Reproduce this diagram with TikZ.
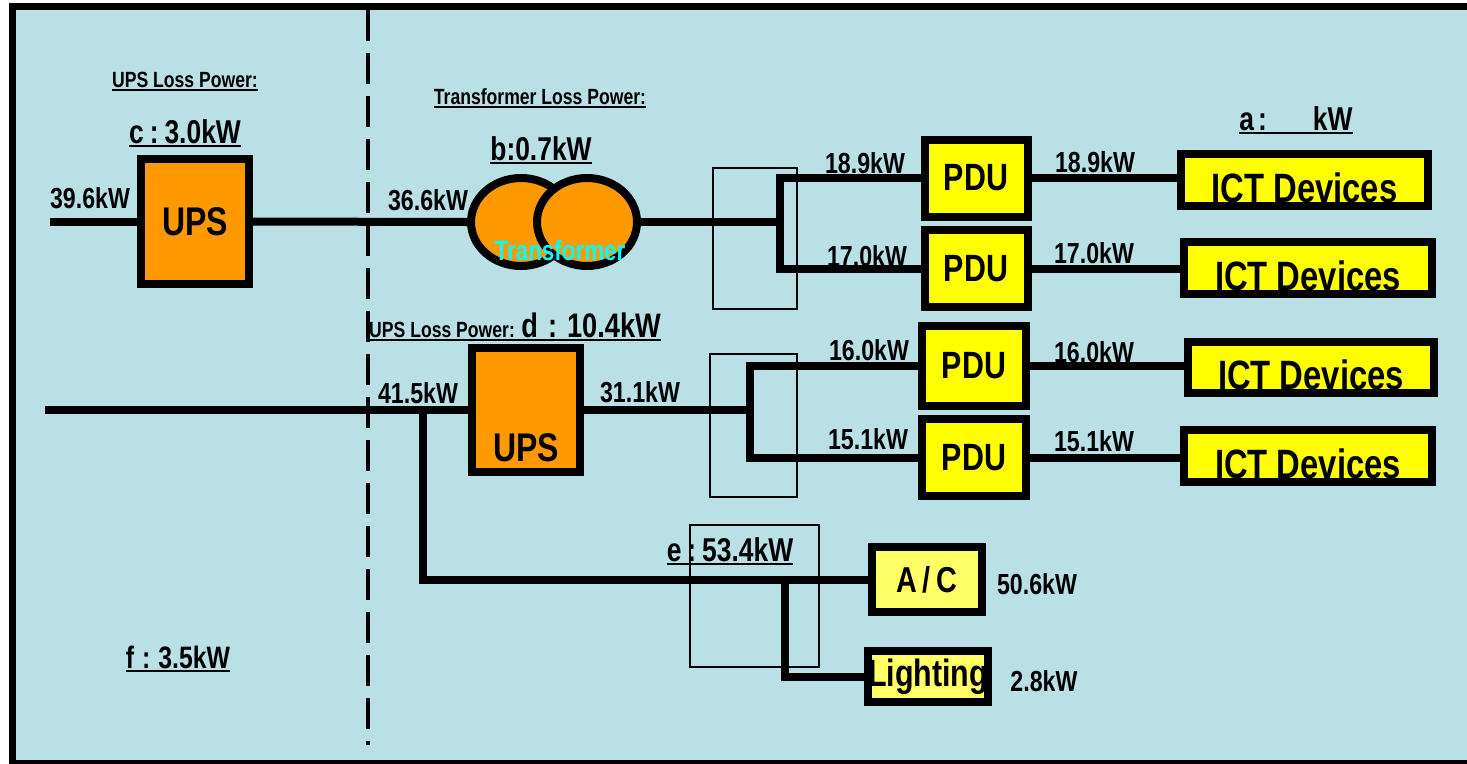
\documentclass[tikz,border=0pt]{standalone}
\usepackage{fontspec}
\setmainfont{Liberation Sans}[FakeStretch=0.8]
\usepackage{xcolor}
\usepackage{tikz}
\usetikzlibrary{shapes.geometric, positioning}

\definecolor{panelbg}{RGB}{185,224,228}
\definecolor{upsorange}{RGB}{255,153,0}
\definecolor{pduyellow}{RGB}{255,255,0}
\definecolor{loadyellow}{RGB}{255,255,102}
\definecolor{xfmrcyan}{RGB}{0,255,255}

\newcommand{\pxfont}[1]{\fontsize{#1}{#1}\selectfont}
\newsavebox{\ulsave}
\newcommand{\lossul}[1]{\sbox{\ulsave}{#1}\rlap{\rule[-4pt]{\wd\ulsave}{2pt}}\usebox{\ulsave}}

\begin{document}
\begin{tikzpicture}[
    x=1pt, y=-1pt,
    box/.style={draw=black, line width=8pt, inner sep=0pt, align=center},
    upsbox/.style={box, fill=upsorange, minimum width=108pt, minimum height=125pt, font=\pxfont{40}\bfseries},
    pdubox/.style={box, fill=pduyellow, minimum width=103pt, minimum height=77pt, font=\pxfont{38}\bfseries},
    ictbox/.style={box, fill=pduyellow, minimum width=247pt, minimum height=52pt, font=\pxfont{41}\bfseries, text height=44pt, text depth=0pt},
    loadbox/.style={box, fill=loadyellow, minimum width=110pt},
    xfmr/.style={ellipse, draw=black, line width=8pt, fill=upsorange, minimum width=100pt, minimum height=88pt},
    wire/.style={line width=8pt},
    panel/.style={draw=black, line width=1.5pt},
    divider/.style={line width=3.5pt, dash pattern=on 31pt off 12pt},
    kw/.style={anchor=base, inner sep=0pt, font=\pxfont{29}\bfseries},
    losstitle/.style={anchor=base, inner sep=0pt, font=\pxfont{22}\bfseries},
    lossval/.style={anchor=base, inner sep=0pt, font=\pxfont{33}\bfseries}
]
    \useasboundingbox (0,0) rectangle (1467,763);
    \fill[white] (0,0) rectangle (1467,763);
    \clip (0,0) rectangle (1467,763);

    % Frame and groups
    \draw[line width=7pt, fill=panelbg] (12,6.5) rectangle (1490,763);
    \draw[divider] (368,10) -- (368,745);
    \draw[panel] (713,168) rectangle (797,309);
    \draw[panel] (710,354) rectangle (797,497);
    \draw[panel] (690,525) rectangle (819,667);

    % Nodes
    \node[upsbox] (ups1) at (195,221.5) {UPS};
    \node[xfmr] (tr1) at (521,222) {};
    \node[xfmr] (tr2) at (587,222) {};
    \node[pdubox] (pdu1) at (976,178) {PDU};
    \node[pdubox] (pdu2) at (976,268.5) {PDU};
    \node[pdubox, minimum width=104pt, minimum height=80pt] (pdu3) at (974,366) {PDU};
    \node[pdubox, minimum width=104pt] (pdu4) at (974,457.5) {PDU};
    \node[ictbox] (ict1) at (1304.5,180) {ICT Devices};
    \node[ictbox, minimum width=248pt] (ict2) at (1308,268) {ICT Devices};
    \node[ictbox, minimum width=246pt, minimum height=51pt] (ict3) at (1311,367.5) {ICT Devices};
    \node[ictbox, minimum width=248pt] (ict4) at (1308,456) {ICT Devices};
    \node[upsbox, minimum height=124pt, text height=103pt, text depth=0pt] (ups2) at (526,410) {UPS};
    \node[loadbox, minimum height=65pt, font=\pxfont{36}\bfseries] (ac) at (927,579.5) {A\,/\,C};
    \node[loadbox, minimum height=51pt, font=\pxfont{38}\bfseries] (light) at (928,676.5) {Lighting};

    \coordinate (feed1) at (50,221.5);
    \coordinate (feed2) at (45,410);
    \coordinate (busA) at (780,222);
    \coordinate (busB) at (750,410);
    \coordinate (tapAC) at (423,410);
    \coordinate (tapLt) at (785,579.5);

    % Flows
    \draw[wire] (feed1) -- (ups1.west);
    \draw[wire] (ups1.east) -- (tr1.west);
    \draw[wire] (tr2.east) -- (busA);
    \draw[wire] (pdu1.west) -| (busA) |- (pdu2.west);
    \draw[wire] (pdu1.east) -- (ict1.west |- pdu1.east);
    \draw[wire] (pdu2.east) -- (ict2.west |- pdu2.east);
    \draw[wire] (feed2) -- (ups2.west);
    \draw[wire] (ups2.east) -- (busB);
    \draw[wire] (pdu3.west) -| (busB) |- (pdu4.west);
    \draw[wire] (pdu3.east) -- (ict3.west |- pdu3.east);
    \draw[wire] (pdu4.east) -- (ict4.west |- pdu4.east);
    \draw[wire] (tapAC) |- (ac.west);
    \draw[wire] (tapLt) |- (light.west);

    % Power labels
    \node[kw] (kwin1) at (90,208) {39.6kW};
    \node[kw] (kwxin) at (428,210) {36.6kW};
    \node[kw] (kwp1) at (865,173) {18.9kW};
    \node[kw] (kwp2) at (867,266) {17.0kW};
    \node[kw] (kwi1) at (1095,172) {18.9kW};
    \node[kw] (kwi2) at (1094,263) {17.0kW};
    \node[kw] (kwin2) at (418,403) {41.5kW};
    \node[kw] (kwout2) at (640,402) {31.1kW};
    \node[kw] (kwp3) at (869,360) {16.0kW};
    \node[kw] (kwp4) at (868,449) {15.1kW};
    \node[kw] (kwi3) at (1094,362) {16.0kW};
    \node[kw] (kwi4) at (1094,451) {15.1kW};
    \node[kw] (kwac) at (1037,594) {50.6kW};
    \node[kw] (kwlt) at (1044,691) {2.8kW};
    \node[anchor=base, inner sep=0pt, font=\pxfont{28}\bfseries, text=xfmrcyan] (xfmrname) at (560,260) {Transformer};

    % Losses
    \node[losstitle] (upsloss1) at (185,87) {\lossul{UPS Loss Power:}};
    \node[lossval] (lossc) at (185,143) {\lossul{c\kern6pt:\kern6pt3.0kW}};
    \node[losstitle] (xfmrloss) at (540,104) {\lossul{Transformer Loss Power:}};
    \node[lossval] (lossb) at (541,160) {\lossul{b:0.7kW}};
    \node[losstitle, anchor=base west] (upsloss2) at (369,337) {\lossul{UPS Loss Power: {\pxfont{34}d\kern10pt:\kern10pt10.4kW}}};
    \node[lossval] (losse) at (730,561) {\lossul{e\kern6pt:\kern6pt53.4kW}};
    \node[lossval, font=\pxfont{31}\bfseries] (lossf) at (178,668) {\lossul{f\kern8pt:\kern8pt3.5kW}};
    \node[lossval] (lossa) at (1296,130) {\lossul{a\kern4pt:\kern46pt kW}};

\end{tikzpicture}
\end{document}
